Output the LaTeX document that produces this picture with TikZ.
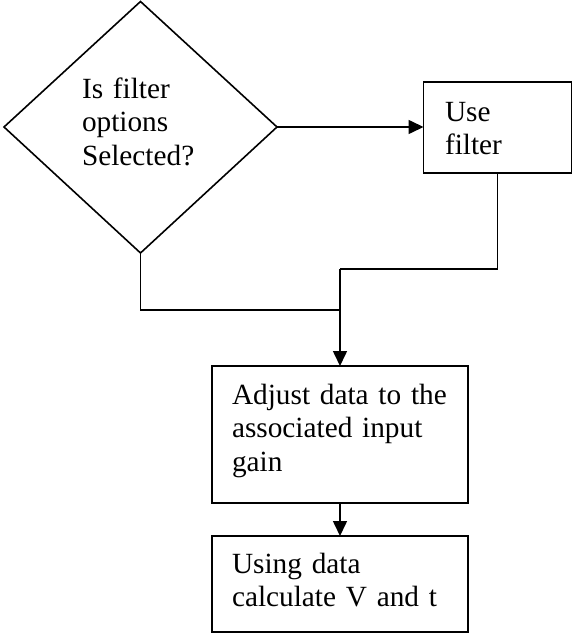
\documentclass[tikz,border=0pt]{standalone}
\usepackage{fontspec}
\setmainfont{Liberation Serif}
\usetikzlibrary{arrows.meta}
\tikzset{
  ln/.style={line width=1.6pt, black},
  box/.style={draw, ln, rectangle, inner sep=0pt, outer sep=0pt},
  arr/.style={ln, -{Triangle[length=15pt,width=14pt]}},
  txt/.style={font=\fontsize{29.3}{33.5}\selectfont, align=left, text width=260pt,
              inner sep=0pt, outer sep=0pt, anchor=base west}
}
\begin{document}
\begin{tikzpicture}[x=1pt,y=-1pt]
\useasboundingbox (0,0) rectangle (573,634);
% decision diamond
\coordinate (dleft) at (4,127);
\coordinate (dtop) at (140.5,1.5);
\coordinate (dright) at (277,127);
\coordinate (dbot) at (140.5,253);
\draw[ln, line join=miter] (dleft) -- (dtop) -- (dright) -- (dbot) -- cycle;
\node[txt] (dtext) at (82,98) {Is filter\\options\\Selected?};
% boxes
\node[box, minimum width=148pt, minimum height=91pt] (usef) at (497.5,127.5) {};
\node[txt] (usetext) at (445,121) {Use\\filter};
\node[box, minimum width=256pt, minimum height=137pt] (adj) at (340,434.5) {};
\node[txt] (adjtext) at (232,404) {Adjust data to the\\associated input\\gain};
\node[box, minimum width=256pt, minimum height=96pt] (calc) at (340,584) {};
\node[txt] (calctext) at (232,573) {Using data\\calculate V and t};
% connectors
\coordinate (m1) at (340,269);
\coordinate (m2) at (340,310);
\draw[arr] (dright) -- (dright -| usef.west);
\draw[ln] (usef.south) |- (m1);
\draw[ln] (dbot) |- (m2);
\draw[arr] (m1) -- (adj.north);
\draw[arr] (adj.south) -- (calc.north);
\end{tikzpicture}
\end{document}
